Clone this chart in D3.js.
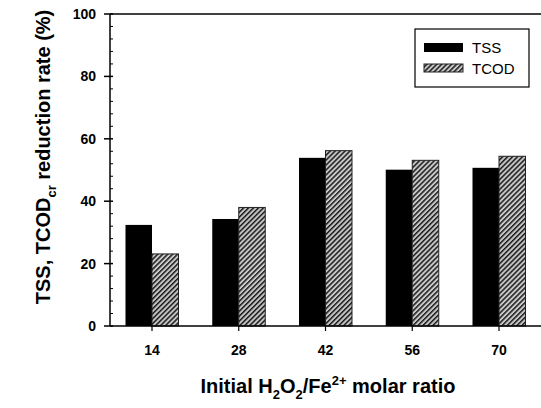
<!DOCTYPE html>
<html>
<head>
<meta charset="utf-8">
<script src="https://cdn.jsdelivr.net/npm/d3@7"></script>
<style>
  body { margin: 0; background: #fff; }
  text { font-family: Arial, "Liberation Sans", sans-serif; }
</style>
</head>
<body>
<svg id="plot"></svg>
<script>
const ratios = [14, 28, 42, 56, 70];
const tss = [32.4, 34.3, 53.9, 50.1, 50.7];
const tcod = [23.1, 38.0, 56.2, 53.1, 54.4];
const yTicks = [0, 20, 40, 60, 80, 100];

const W = 541, H = 408;
const plotL = 110, plotT = 14, plotB = 326, plotR = 541;

const svg = d3.select("#plot").attr("width", W).attr("height", H);

// hatch for TCOD
const defs = svg.append("defs");
const pat = defs.append("pattern")
  .attr("id", "hatch")
  .attr("patternUnits", "userSpaceOnUse")
  .attr("width", 3.5).attr("height", 3.5)
  .attr("patternTransform", "rotate(45)");
pat.append("rect").attr("width", 3.5).attr("height", 3.5).attr("fill", "#c8c8c8");
pat.append("rect").attr("width", 1.5).attr("height", 3.5).attr("fill", "#1a1a1a");

const x = d3.scaleLinear().domain([14, 70]).range([152, 499]);
const y = d3.scaleLinear().domain([0, 100]).range([plotB, plotT]);
const barW = 26.5;

// bars
svg.selectAll(".tss")
  .data(ratios)
  .enter()
  .append("rect")
  .attr("class", "tss")
  .attr("x", (d) => x(d) - barW)
  .attr("y", (d, i) => y(tss[i]))
  .attr("width", barW)
  .attr("height", (d, i) => y(0) - y(tss[i]))
  .attr("fill", "#000");

svg.selectAll(".tcod")
  .data(ratios)
  .enter()
  .append("rect")
  .attr("class", "tcod")
  .attr("x", (d) => x(d))
  .attr("y", (d, i) => y(tcod[i]))
  .attr("width", barW)
  .attr("height", (d, i) => y(0) - y(tcod[i]))
  .attr("fill", "url(#hatch)")
  .attr("stroke", "#222")
  .attr("stroke-width", 1);

// frame lines
svg.append("line")
  .attr("x1", plotL).attr("x2", plotR).attr("y1", plotT).attr("y2", plotT)
  .attr("stroke", "#000").attr("stroke-width", 1.5);
svg.append("line")
  .attr("x1", plotL).attr("x2", plotR).attr("y1", plotB).attr("y2", plotB)
  .attr("stroke", "#000").attr("stroke-width", 1.5);
svg.append("line")
  .attr("x1", plotL).attr("x2", plotL).attr("y1", plotT).attr("y2", plotB)
  .attr("stroke", "#000").attr("stroke-width", 1.5);

// y ticks
const minor = d3.range(0, 101, 4).filter((v) => v % 20 !== 0);
svg.selectAll(".ymin")
  .data(minor)
  .enter()
  .append("line")
  .attr("x1", plotL).attr("x2", plotL + 3)
  .attr("y1", (d) => y(d)).attr("y2", (d) => y(d))
  .attr("stroke", "#000").attr("stroke-width", 1);
svg.selectAll(".ymaj")
  .data(yTicks)
  .enter()
  .append("line")
  .attr("x1", plotL - 6).attr("x2", plotL + 3)
  .attr("y1", (d) => y(d)).attr("y2", (d) => y(d))
  .attr("stroke", "#000").attr("stroke-width", 1.5);
svg.selectAll(".ylab")
  .data(yTicks)
  .enter()
  .append("text")
  .attr("x", plotL - 14)
  .attr("y", (d) => y(d))
  .attr("dy", "0.36em")
  .attr("text-anchor", "end")
  .attr("font-size", 14)
  .attr("font-weight", "bold")
  .text((d) => d);

// x ticks
svg.selectAll(".xt")
  .data(ratios)
  .enter()
  .append("line")
  .attr("x1", (d) => x(d)).attr("x2", (d) => x(d))
  .attr("y1", plotB).attr("y2", plotB + 5)
  .attr("stroke", "#000").attr("stroke-width", 1.2);
svg.selectAll(".xlab")
  .data(ratios)
  .enter()
  .append("text")
  .attr("x", (d) => x(d))
  .attr("y", 355)
  .attr("text-anchor", "middle")
  .attr("font-size", 14)
  .attr("font-weight", "bold")
  .text((d) => d);

// x title
const xt = svg.append("text")
  .attr("x", 328).attr("y", 393)
  .attr("text-anchor", "middle")
  .attr("font-size", 20)
  .attr("font-weight", "bold");
xt.append("tspan").text("Initial H");
xt.append("tspan").attr("font-size", 13).attr("dy", 6).text("2");
xt.append("tspan").attr("dy", -6).text("O");
xt.append("tspan").attr("font-size", 13).attr("dy", 6).text("2");
xt.append("tspan").attr("dy", -6).text("/Fe");
xt.append("tspan").attr("font-size", 13).attr("dy", -8).text("2+");
xt.append("tspan").attr("dy", 8).text(" molar ratio");

// y title
const yt = svg.append("text")
  .attr("transform", "translate(50,157) rotate(-90)")
  .attr("text-anchor", "middle")
  .attr("font-size", 20)
  .attr("font-weight", "bold");
yt.append("tspan").text("TSS, TCOD");
yt.append("tspan").attr("font-size", 13).attr("dy", 6).text("cr");
yt.append("tspan").attr("dy", -6).text(" reduction rate (%)");

// legend
const lg = svg.append("g");
lg.append("rect")
  .attr("x", 415).attr("y", 29).attr("width", 114).attr("height", 58)
  .attr("fill", "#fff").attr("stroke", "#000").attr("stroke-width", 1.2);
lg.append("rect")
  .attr("x", 424).attr("y", 43).attr("width", 39).attr("height", 9)
  .attr("fill", "#000");
lg.append("rect")
  .attr("x", 424).attr("y", 64).attr("width", 39).attr("height", 8)
  .attr("fill", "url(#hatch)").attr("stroke", "#222").attr("stroke-width", 1);
lg.append("text").attr("x", 472).attr("y", 53)
  .attr("font-size", 15).text("TSS");
lg.append("text").attr("x", 472).attr("y", 74)
  .attr("font-size", 15).text("TCOD");
</script>
</body>
</html>
